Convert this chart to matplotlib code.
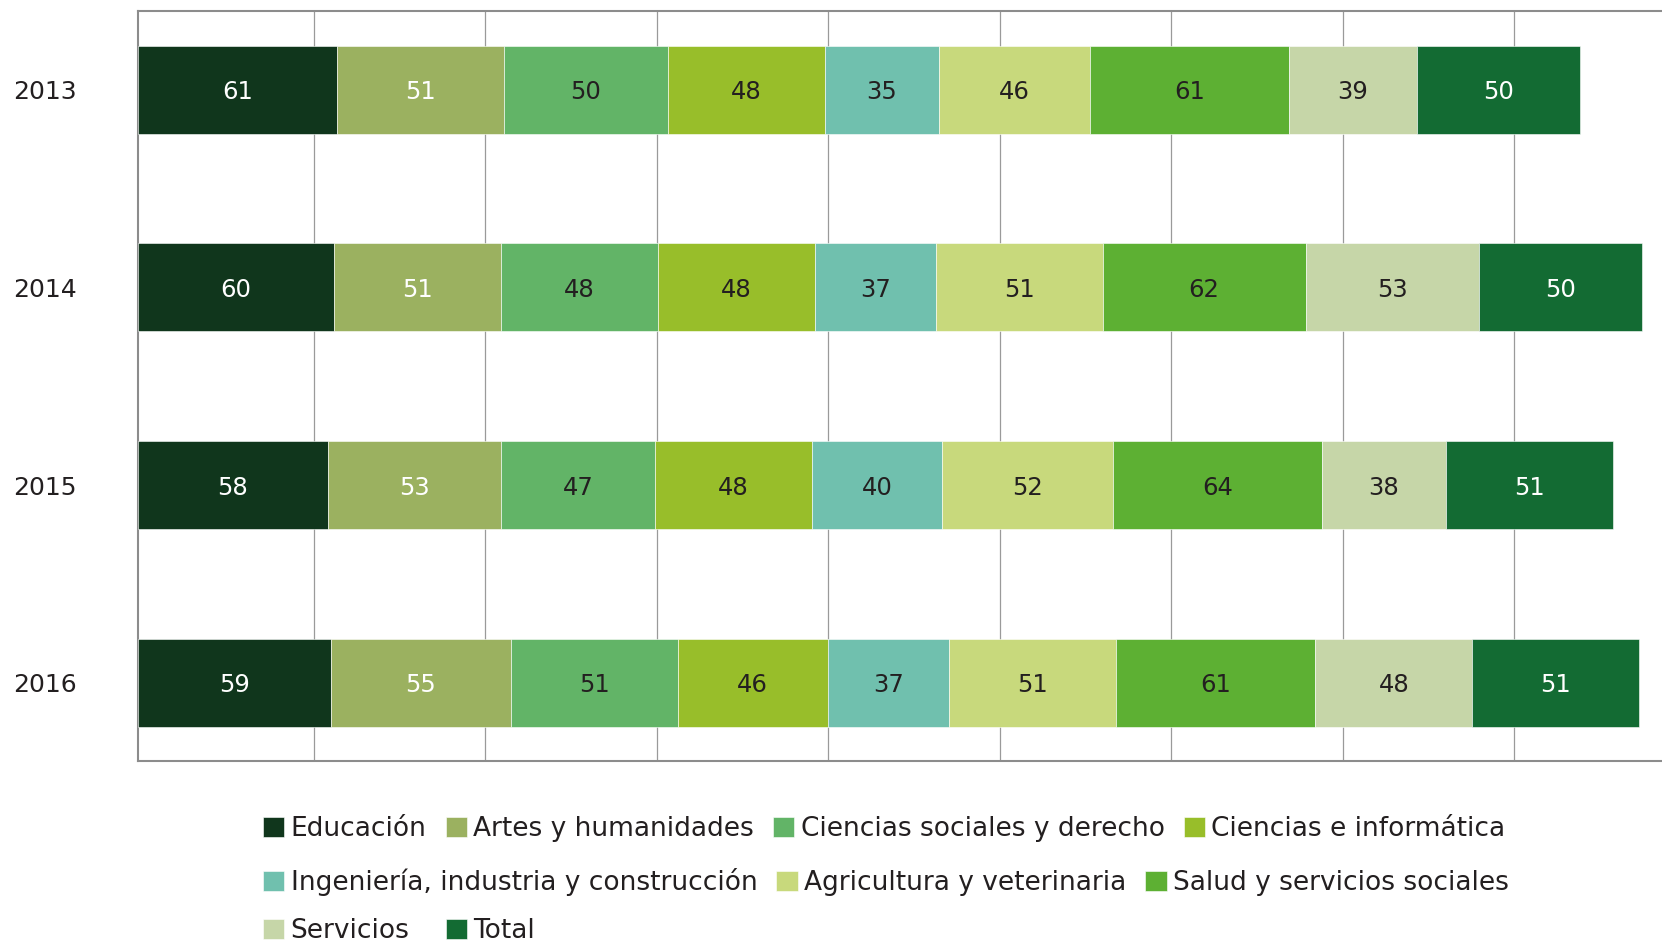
import numpy as np
import matplotlib
matplotlib.use("Agg")
import matplotlib.pyplot as plt

plt.rcParams["font.family"] = ["DejaVu Sans"]

years = ["2013", "2014", "2015", "2016"]
categories = ["Educación", "Artes y humanidades", "Ciencias sociales y derecho",
              "Ciencias e informática", "Ingeniería, industria y construcción",
              "Agricultura y veterinaria", "Salud y servicios sociales",
              "Servicios", "Total"]
educacion = [61, 60, 58, 59]
artes = [51, 51, 53, 55]
sociales = [50, 48, 47, 51]
ciencias = [48, 48, 48, 46]
ingenieria = [35, 37, 40, 37]
agricultura = [46, 51, 52, 51]
salud = [61, 62, 64, 61]
servicios = [39, 53, 38, 48]
total = [50, 50, 51, 51]

series = [educacion, artes, sociales, ciencias, ingenieria,
          agricultura, salud, servicios, total]
colors = ["#10361c", "#9bb160", "#62b467", "#98be2a", "#70c0ae",
          "#c8d97c", "#5db033", "#c6d6a8", "#136b33"]
labelColors = ["white", "white", "#231f20", "#231f20", "#231f20",
               "#231f20", "#231f20", "#231f20", "white"]
textDark = "#231f20"

fig = plt.figure(figsize=(16.62, 9.42), dpi=100)
ax = fig.add_axes([0.0830, 0.1921, 0.9170, 0.7966])

yPos = np.arange(len(years))
left = np.zeros(len(years))
bars = []
for vals, col, lcol in zip(series, colors, labelColors):
    vals = np.array(vals, dtype=float)
    b = ax.barh(yPos, vals, left=left, height=0.445, color=col,
                edgecolor="white", linewidth=0.4, zorder=3)
    txts = ax.bar_label(b, labels=[f"{v:.0f}" for v in vals], label_type="center",
                        color=lcol, fontsize=17.5, zorder=4)
    for t in txts:
        t.set_verticalalignment("center_baseline")
    bars.append(b)
    left += vals

ax.set_xlim(0, 466)
ax.set_ylim(3.395, -0.4)
ax.set_xticks(np.arange(1, 9) * 52.44 + 1.3)
ax.set_xticklabels([])
ax.tick_params(axis="x", length=0)
ax.grid(axis="x", color="#9a9a9a", linewidth=0.9, zorder=0)
ax.set_axisbelow(True)
ax.set_yticks(yPos)
ax.set_yticklabels(years, fontsize=18, color=textDark, va="center_baseline")
ax.tick_params(axis="y", length=0, pad=44)
for side in ["left", "bottom", "top"]:
    ax.spines[side].set_color("#8c8c8c")
    ax.spines[side].set_linewidth(1.5)
ax.spines["right"].set_visible(False)

# legend in three rows, each flowing left to right
rows = [[0, 1, 2, 3], [4, 5, 6], [7, 8]]
rowY = [1 - 829/942, 1 - 882/942, 1 - 931/942]
colSpacing = [0.72, 0.72, 1.37]
for idx, yy, cs in zip(rows, rowY, colSpacing):
    leg = fig.legend([bars[i] for i in idx], [categories[i] for i in idx],
                     ncol=len(idx), loc="center left",
                     bbox_to_anchor=(263/1662, yy), frameon=False,
                     fontsize=19, handlelength=0.8, handleheight=0.8,
                     handletextpad=0.25, columnspacing=cs,
                     borderpad=0, borderaxespad=0)
    for t in leg.get_texts():
        t.set_color(textDark)

plt.savefig("out.png", dpi=100)
plt.close()
